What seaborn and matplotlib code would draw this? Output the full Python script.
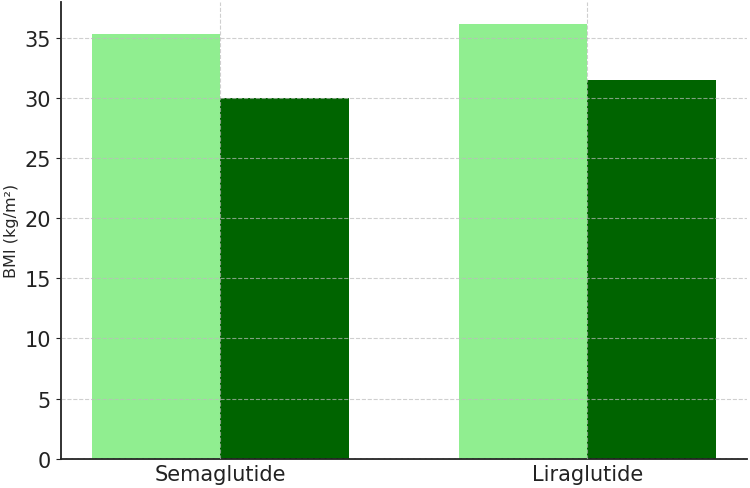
import pandas as pd
import seaborn as sns
import matplotlib.pyplot as plt

# chart values
drugs = ["Semaglutide", "Liraglutide"]
phases = ["Baseline", "Follow-up"]
bmi_baseline = [35.3, 36.2]
bmi_followup = [30.0, 31.5]
bar_colors = ["#90EE90", "#006400"]

df = pd.DataFrame({
    "drug": drugs * 2,
    "phase": [phases[0]] * len(drugs) + [phases[1]] * len(drugs),
    "bmi": bmi_baseline + bmi_followup,
})

sns.set_style("ticks")
plt.rcParams['font.family'] = ['DejaVu Sans']

fig = plt.figure(figsize=(7.5, 4.89), dpi=100)
ax = fig.add_axes([0.081, 0.060, 0.915, 0.934])

sns.barplot(data=df, x="drug", y="bmi", hue="phase", palette=bar_colors,
            width=0.7, gap=0, saturation=1, errorbar=None, linewidth=0, ax=ax)

ax.legend_.remove()
ax.set_xlim(-0.435, 1.435)
ax.set_ylim(0, 38.0)
ax.set_yticks(range(0, 36, 5))
ax.set_xlabel("")
ax.set_ylabel("BMI (kg/m²)", fontsize=11.5)
ax.tick_params(axis="both", labelsize=15, colors="#222222")
ax.tick_params(axis="x", length=0, pad=4)

ax.set_axisbelow(False)
ax.grid(True, linestyle="--", color="#bbbbbb", alpha=0.7, linewidth=0.8)

for side in ["top", "right"]:
    ax.spines[side].set_visible(False)
for side in ["left", "bottom"]:
    ax.spines[side].set_linewidth(1.3)
    ax.spines[side].set_color("#222222")

fig.savefig("out.png", dpi=100)
